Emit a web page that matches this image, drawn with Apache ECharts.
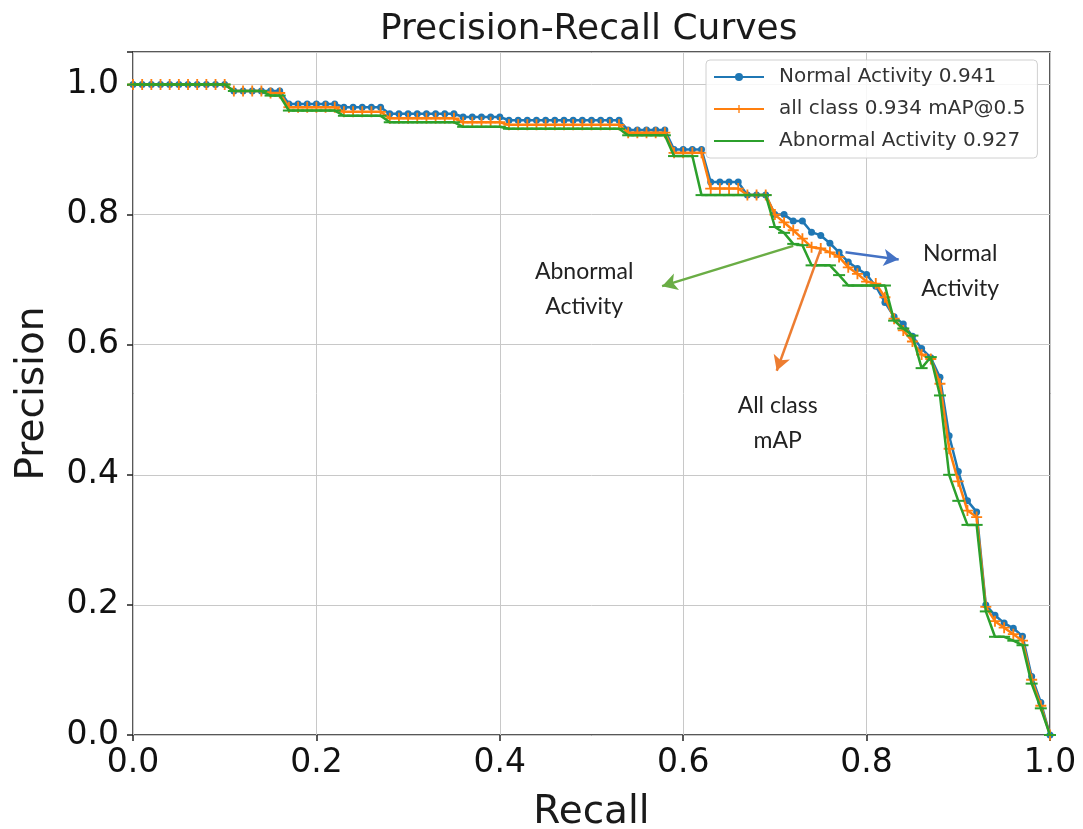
<!DOCTYPE html>
<html><head><meta charset="utf-8">
<script src="https://cdn.jsdelivr.net/npm/echarts@6/dist/echarts.min.js"></script>
<style>html,body{margin:0;padding:0;background:#fff}#c{width:1083px;height:829px}</style>
</head><body><div id="c"></div>
<script>
const recall = [0,0.01,0.02,0.03,0.04,0.05,0.06,0.07,0.08,0.09,0.10,0.11,0.12,0.13,0.14,0.15,0.16,0.17,0.18,0.19,0.20,0.21,0.22,0.23,0.24,0.25,0.26,0.27,0.28,0.29,0.30,0.31,0.32,0.33,0.34,0.35,0.36,0.37,0.38,0.39,0.40,0.41,0.42,0.43,0.44,0.45,0.46,0.47,0.48,0.49,0.50,0.51,0.52,0.53,0.54,0.55,0.56,0.57,0.58,0.59,0.60,0.61,0.62,0.63,0.64,0.65,0.66,0.67,0.68,0.69,0.70,0.71,0.72,0.73,0.74,0.75,0.76,0.77,0.78,0.79,0.80,0.81,0.82,0.83,0.84,0.85,0.86,0.87,0.88,0.89,0.90,0.91,0.92,0.93,0.94,0.95,0.96,0.97,0.98,0.99,1.00];

const normalActivity = [1,1,1,1,1,1,1,1,1,1,1,
  0.99,0.99,0.99,0.99,0.99,0.99,
  0.97,0.97,0.97,0.97,0.97,0.97,
  0.965,0.965,0.965,0.965,0.965,
  0.955,0.955,0.955,0.955,0.955,0.955,0.955,0.955,
  0.95,0.95,0.95,0.95,0.95,
  0.945,0.945,0.945,0.945,0.945,0.945,0.945,0.945,0.945,0.945,0.945,0.945,0.945,
  0.93,0.93,0.93,0.93,0.93,
  0.90,0.90,0.90,0.90,
  0.85,0.85,0.85,0.85,
  0.83,0.83,0.83,
  0.80,0.80,0.79,0.79,0.773,0.768,0.756,0.742,0.727,0.717,0.708,0.69,0.665,0.643,0.632,0.613,0.594,0.58,0.55,0.46,0.405,0.36,0.343,0.2,0.184,0.172,0.164,0.152,0.09,0.05,0.0];

const allClass = [1,1,1,1,1,1,1,1,1,1,1,
  0.99,0.99,0.99,0.99,0.987,0.987,
  0.965,0.965,0.965,0.965,0.965,0.965,
  0.958,0.958,0.958,0.958,0.958,
  0.948,0.948,0.948,0.948,0.948,0.948,0.948,0.948,
  0.942,0.942,0.942,0.942,0.942,
  0.938,0.938,0.938,0.938,0.938,0.938,0.938,0.938,0.938,0.938,0.938,0.938,0.938,
  0.926,0.926,0.926,0.926,0.926,
  0.895,0.895,0.895,0.895,
  0.84,0.84,0.84,0.84,
  0.83,0.83,0.83,
  0.80,0.788,0.776,0.763,0.75,0.748,0.742,0.735,0.719,0.709,0.697,0.694,0.673,0.64,0.622,0.605,0.585,0.578,0.54,0.44,0.39,0.345,0.335,0.197,0.175,0.165,0.155,0.145,0.085,0.045,0.0];

const abnormalActivity = [1,1,1,1,1,1,1,1,1,1,1,
  0.99,0.99,0.99,0.99,0.983,0.983,
  0.96,0.96,0.96,0.96,0.96,0.96,
  0.952,0.952,0.952,0.952,0.952,
  0.942,0.942,0.942,0.942,0.942,0.942,0.942,0.942,
  0.935,0.935,0.935,0.935,0.935,
  0.932,0.932,0.932,0.932,0.932,0.932,0.932,0.932,0.932,0.932,0.932,0.932,0.932,
  0.922,0.922,0.922,0.922,0.922,
  0.89,0.89,0.89,
  0.83,0.83,0.83,0.83,0.83,0.83,0.83,0.83,
  0.781,0.772,0.755,0.753,0.722,0.722,0.722,0.707,0.691,0.691,0.691,0.691,0.691,0.637,0.625,0.614,0.564,0.581,0.522,0.40,0.36,0.323,0.323,0.19,0.151,0.151,0.145,0.138,0.079,0.041,0.0];

const seriesNames = ['Normal Activity 0.941','all class 0.934 mAP@0.5','Abnormal Activity 0.927'];
const xTicks = [0,0.2,0.4,0.6,0.8,1.0];
const yTicks = [0,0.2,0.4,0.6,0.8,1.0];

// annotations: label text, text position, arrow start and arrow end (data coordinates)
const annotations = [
  {text:'Abnormal\nActivity', at:[0.492,0.686], from:[0.72,0.752], to:[0.577,0.69], color:'#6aad45'},
  {text:'Normal\nActivity', at:[0.902,0.7135], from:[0.777,0.742], to:[0.835,0.731], color:'#4472c4'},
  {text:'All class\nmAP', at:[0.703,0.48], from:[0.75,0.747], to:[0.702,0.56], color:'#ed7d31'}
];

const pair = (ys) => recall.map((r,i)=>[r, ys[i]]);
const near = (v, arr) => arr.some(t => Math.abs(t - v) < 1e-6);

const chart = echarts.init(document.getElementById('c'), null, {renderer:'canvas'});
const font = 'DejaVu Sans';
const plusPath = 'path://M-1,-6H1V-1H6V1H1V6H-1V1H-6V-1H-1Z';
// thin horizontal dash inside a square bounding box
const hPath = 'path://M-6,-6L-6,-6M-6,-1H6V1H-6ZM6,6L6,6';

chart.setOption({
  backgroundColor:'#fff',
  animation:false,
  title:{text:'Precision-Recall Curves', left:375, top:7,
    textStyle:{fontFamily:font, fontSize:36, fontWeight:'normal', color:'#1a1a1a'}},
  grid:{left:133, right:33, top:52, bottom:94, show:true, borderColor:'#222', borderWidth:1.5,
    containLabel:false, outerBoundsMode:'none'},
  legend:{
    data:seriesNames,
    orient:'vertical', left:706, top:60,
    backgroundColor:'rgba(255,255,255,0.85)', borderColor:'#d0d0d0', borderWidth:1, borderRadius:4,
    padding:[6,12,6,7], itemWidth:50, itemHeight:10, itemGap:10,
    textStyle:{fontFamily:font, fontSize:20, color:'#333', lineHeight:22, padding:[0,0,0,10]}
  },
  xAxis:{type:'value', min:0, max:1, interval:0.2,
    name:'Recall', nameLocation:'middle', nameGap:58,
    nameTextStyle:{fontFamily:font, fontSize:39, color:'#1a1a1a'},
    axisLine:{show:false}, axisTick:{show:true, length:6, lineStyle:{color:'#222', width:1.5}},
    axisLabel:{fontFamily:font, fontSize:33, color:'#111', margin:12,
      formatter:v=> near(v,xTicks) ? v.toFixed(1) : ''},
    splitLine:{show:true, lineStyle:{color:'#c8c8c8', width:1}}
  },
  yAxis:{type:'value', min:0, max:1.05, interval:0.2,
    name:'Precision', nameLocation:'middle', nameGap:81, nameRotate:90,
    nameTextStyle:{fontFamily:font, fontSize:39, color:'#1a1a1a'},
    axisLine:{show:false}, axisTick:{show:true, length:6, lineStyle:{color:'#222', width:1.5}},
    axisLabel:{fontFamily:font, fontSize:33, color:'#111', margin:14,
      formatter:v=> near(v,yTicks) ? v.toFixed(1) : ''},
    splitLine:{show:true, lineStyle:{color:'#c8c8c8', width:1}}
  },
  series:[
    {name:seriesNames[0], type:'line', data:pair(normalActivity), color:'#1f77b4',
      symbol:'circle', symbolSize:7, showSymbol:true, lineStyle:{width:2.5}, itemStyle:{color:'#1f77b4'}, z:2},
    {name:seriesNames[1], type:'line', data:pair(allClass), color:'#ff7f0e',
      symbol:plusPath, symbolSize:11, showSymbol:true, lineStyle:{width:2.5}, itemStyle:{color:'#ff7f0e'}, z:3},
    {name:seriesNames[2], type:'line', data:pair(abnormalActivity), color:'#2ca02c',
      symbol:hPath, symbolSize:12, showSymbol:true, lineStyle:{width:2.5}, itemStyle:{color:'#2ca02c'}, z:4},
    {name:'annotations', type:'line', data:[], z:6, silent:true,
      markLine:{silent:true, symbol:['none','arrow'], symbolSize:[13,15], precision:4,
        label:{show:false},
        data: annotations.map(a=>[
          {coord:a.from, lineStyle:{color:a.color, width:2.5, type:'solid'}, itemStyle:{color:a.color}},
          {coord:a.to}
        ])},
      markPoint:{silent:true, symbol:'circle', symbolSize:1, itemStyle:{color:'rgba(0,0,0,0)'},
        data: annotations.map(a=>({coord:a.at, value:a.text,
          label:{show:true, position:'inside', formatter:a.text, fontFamily:'Lato', fontSize:23,
            lineHeight:35, color:'#222', align:'center', verticalAlign:'middle'}}))}
    }
  ]
});
</script></body></html>
